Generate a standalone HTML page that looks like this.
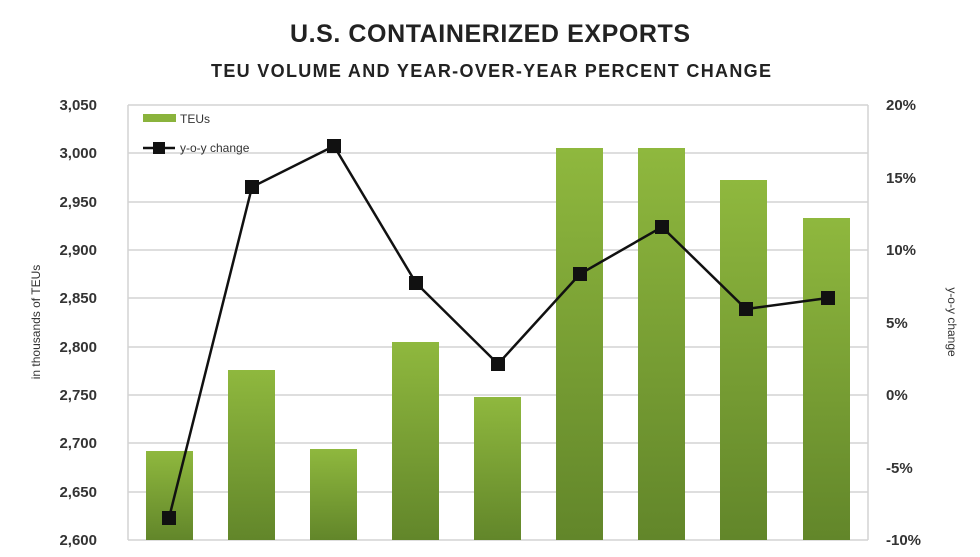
<!DOCTYPE html>
<html><head><style>
body{margin:0;background:#fff;width:980px;height:552px;overflow:hidden}
text{font-family:"Liberation Sans",sans-serif}
</style></head><body>
<svg width="980" height="552" viewBox="0 0 980 552">
<defs><linearGradient id="g" x1="0" y1="0" x2="0" y2="1"><stop offset="0" stop-color="#8fb83e"/><stop offset="1" stop-color="#62862a"/></linearGradient></defs>
<text x="490" y="42" text-anchor="middle" font-size="25" font-weight="bold" fill="#222" textLength="400">U.S. CONTAINERIZED EXPORTS</text>
<text x="491" y="77" text-anchor="middle" font-size="18" font-weight="bold" fill="#222" textLength="560">TEU VOLUME AND YEAR-OVER-YEAR PERCENT CHANGE</text>
<g stroke="#d4d4d4" stroke-width="1.5">
<line x1="128" x2="868" y1="105" y2="105"/><line x1="128" x2="868" y1="153" y2="153"/><line x1="128" x2="868" y1="202" y2="202"/><line x1="128" x2="868" y1="250" y2="250"/><line x1="128" x2="868" y1="298" y2="298"/><line x1="128" x2="868" y1="347" y2="347"/><line x1="128" x2="868" y1="395" y2="395"/><line x1="128" x2="868" y1="443" y2="443"/><line x1="128" x2="868" y1="492" y2="492"/>
<line x1="128" x2="868" y1="540" y2="540"/><line x1="128" x2="128" y1="105" y2="540"/><line x1="868" x2="868" y1="105" y2="540"/>
</g>
<g fill="#333" font-size="15" text-anchor="end" font-weight="bold">
<text x="97" y="110">3,050</text><text x="97" y="158">3,000</text><text x="97" y="207">2,950</text><text x="97" y="255">2,900</text><text x="97" y="303">2,850</text><text x="97" y="352">2,800</text><text x="97" y="400">2,750</text><text x="97" y="448">2,700</text><text x="97" y="497">2,650</text><text x="97" y="545">2,600</text>
</g>
<g fill="#333" font-size="15" text-anchor="start" font-weight="bold">
<text x="886" y="110">20%</text><text x="886" y="183">15%</text><text x="886" y="255">10%</text><text x="886" y="328">5%</text><text x="886" y="400">0%</text><text x="886" y="473">-5%</text><text x="886" y="545">-10%</text>
</g>
<text transform="translate(40,322) rotate(-90)" text-anchor="middle" font-size="12" fill="#333">in thousands of TEUs</text>
<text transform="translate(948,322) rotate(90)" text-anchor="middle" font-size="12" fill="#333">y-o-y change</text>
<g fill="url(#g)">
<rect x="146" y="451" width="47" height="89"/><rect x="228" y="370" width="47" height="170"/><rect x="310" y="449" width="47" height="91"/><rect x="392" y="342" width="47" height="198"/><rect x="474" y="397" width="47" height="143"/><rect x="556" y="148" width="47" height="392"/><rect x="638" y="148" width="47" height="392"/><rect x="720" y="180" width="47" height="360"/><rect x="803" y="218" width="47" height="322"/>
</g>
<polyline fill="none" stroke="#111" stroke-width="2.5" points="169,518 252,187 334,146 416,283 498,364 580,274 662,227 746,309 828,298"/>
<g fill="#111">
<rect x="162" y="511" width="14" height="14"/><rect x="245" y="180" width="14" height="14"/><rect x="327" y="139" width="14" height="14"/><rect x="409" y="276" width="14" height="14"/><rect x="491" y="357" width="14" height="14"/><rect x="573" y="267" width="14" height="14"/><rect x="655" y="220" width="14" height="14"/><rect x="739" y="302" width="14" height="14"/><rect x="821" y="291" width="14" height="14"/>
</g>
<rect x="143" y="114" width="33" height="8" fill="#8ab33c"/>
<text x="180" y="123" font-size="12" fill="#333">TEUs</text>
<line x1="143" x2="175" y1="148" y2="148" stroke="#111" stroke-width="2.5"/>
<rect x="153" y="142" width="12" height="12" fill="#111"/>
<text x="180" y="152" font-size="12" fill="#333">y-o-y change</text>
</svg>
</body></html>
